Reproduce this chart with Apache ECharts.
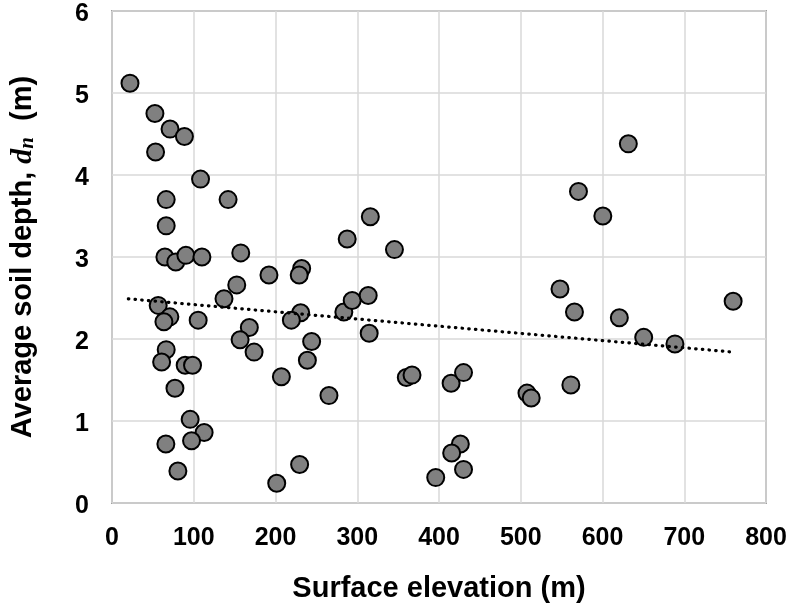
<!DOCTYPE html>
<html>
<head>
<meta charset="utf-8">
<script src="https://cdn.jsdelivr.net/npm/echarts@6/dist/echarts.min.js"></script>
<style>html,body{margin:0;padding:0;background:#fff;}#c{width:796px;height:608px;}</style>
</head>
<body>
<div id="c"></div>
<script>
// Surface elevation (m)
var elevation = [22, 52.5, 71, 88.6, 53.3, 108.3, 66.3, 142, 66.3, 287.7,
  64.7, 78, 90.4, 110, 157.5, 192, 232, 229, 152.6, 137,
  56.5, 70.8, 63.5, 105.4, 230.8, 219.4, 283.6, 293.8, 313.4, 314.6,
  168, 156.7, 173.8, 244.2, 239, 66.3, 60.7, 89.5, 98.5, 207.2,
  77, 265.4, 95.6, 112.7, 97.3, 65.9, 80.6, 229.5, 201.5, 316,
  345.5, 570.6, 548, 565.7, 360, 367, 414.8, 430, 507.6, 512.8,
  561.3, 426.1, 415.5, 430, 396, 631.6, 600.4, 620.6, 650.4, 688.6,
  759.8];
// Average soil depth d_n (m)
var depth = [5.12, 4.75, 4.56, 4.47, 4.28, 3.95, 3.70, 3.70, 3.38, 3.22,
  3.00, 2.94, 3.02, 3.00, 3.05, 2.78, 2.86, 2.78, 2.66, 2.49,
  2.41, 2.27, 2.21, 2.23, 2.32, 2.23, 2.33, 2.47, 2.53, 2.07,
  2.14, 1.99, 1.84, 1.97, 1.74, 1.87, 1.72, 1.68, 1.68, 1.54,
  1.40, 1.31, 1.02, 0.86, 0.76, 0.72, 0.39, 0.47, 0.24, 3.49,
  3.09, 3.80, 2.61, 2.33, 1.53, 1.56, 1.46, 1.59, 1.34, 1.28,
  1.44, 0.72, 0.61, 0.41, 0.31, 4.38, 3.50, 2.26, 2.02, 1.94,
  2.46];
// Linear trend line endpoints
var trendX = [20, 760];
var trendY = [2.49, 1.84];
var xTicks = [0, 100, 200, 300, 400, 500, 600, 700, 800];
var yTicks = [0, 1, 2, 3, 4, 5, 6];

var pts = elevation.map(function (x, i) { return [x, depth[i]]; });
var trend = trendX.map(function (x, i) { return [x, trendY[i]]; });

var chart = echarts.init(document.getElementById('c'));
var labelFont = { color: '#000', fontSize: 25, fontWeight: 'bold', fontFamily: 'Liberation Sans' };
chart.setOption({
  animation: false,
  backgroundColor: '#fff',
  grid: { left: 111, right: 30, top: 11, bottom: 105, show: true, borderColor: '#a0a0a0', borderWidth: 2, backgroundColor: 'transparent' },
  xAxis: {
    type: 'value', min: xTicks[0], max: xTicks[xTicks.length - 1], interval: 100,
    axisLine: { show: false }, axisTick: { show: false },
    splitLine: { lineStyle: { color: '#d9d9d9', width: 1.5 } },
    axisLabel: Object.assign({ margin: 23 }, labelFont),
    name: 'Surface elevation (m)', nameLocation: 'middle', nameGap: 71,
    nameTextStyle: { color: '#000', fontSize: 29, fontWeight: 'bold', fontFamily: 'Liberation Sans' }
  },
  yAxis: {
    type: 'value', min: yTicks[0], max: yTicks[yTicks.length - 1], interval: 1,
    axisLine: { show: false }, axisTick: { show: false },
    splitLine: { lineStyle: { color: '#d9d9d9', width: 1.5 } },
    axisLabel: Object.assign({ margin: 23, verticalAlign: 'top', padding: [-9, 0, 0, 0] }, labelFont),
    name: '{a|Average soil depth, }{i|d}{s|n}{a|  (m)}', nameLocation: 'middle', nameGap: 74, nameRotate: 90,
    nameTextStyle: {
      color: '#000', fontSize: 29, fontWeight: 'bold', fontFamily: 'Liberation Sans',
      rich: {
        a: { fontSize: 29, fontWeight: 'bold', fontFamily: 'Liberation Sans', color: '#000' },
        i: { fontSize: 30, fontWeight: 'bold', fontStyle: 'italic', fontFamily: 'Liberation Serif', color: '#000' },
        s: { fontSize: 21, fontWeight: 'bold', fontStyle: 'italic', fontFamily: 'Liberation Serif', color: '#000', verticalAlign: 'bottom', padding: [9, 0, 0, 0] }
      }
    }
  },
  series: [
    {
      type: 'line', data: trend, showSymbol: false, symbol: 'none',
      lineStyle: { color: '#000', width: 3.2, type: [0.5, 6.2], cap: 'round' }, z: 3, silent: true
    },
    {
      type: 'scatter', data: pts, symbol: 'circle', symbolSize: 17,
      itemStyle: { color: '#808080', borderColor: '#000', borderWidth: 2, opacity: 1 }, z: 2
    }
  ]
});
</script>
</body>
</html>
